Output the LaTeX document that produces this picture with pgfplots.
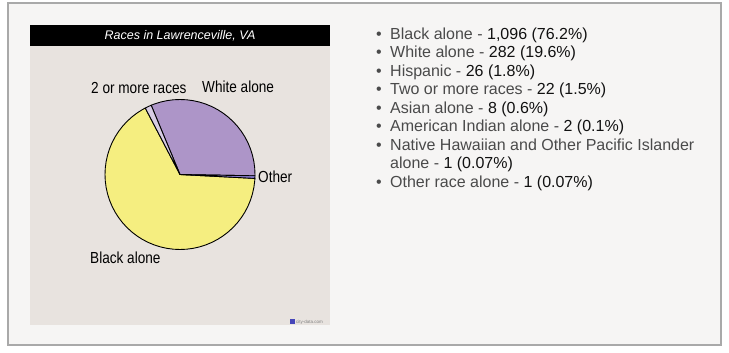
\documentclass[border=0pt]{standalone}
\usepackage{pgfplots}
\pgfplotsset{compat=1.18}
\usepgfplotslibrary{polar}
\usepackage{graphicx}
\usepackage{fontspec}
\setmainfont{Liberation Sans}
\definecolor{frame}{HTML}{A9A9A9}
\definecolor{pagebg}{HTML}{F6F5F4}
\definecolor{piebg}{HTML}{E8E3DF}
\definecolor{pyellow}{HTML}{F5EE80}
\definecolor{ppurple}{HTML}{AD95C8}
\definecolor{plav}{HTML}{D8CCE4}
\definecolor{pother}{HTML}{8C80D4}
\definecolor{lbl}{HTML}{4A4A4A}
\definecolor{num}{HTML}{111111}
\begin{document}
\begin{tikzpicture}[x=1pt,y=1pt]
\useasboundingbox (0,0) rectangle (729,353);
\fill[white] (0,0) rectangle (729,353);
\filldraw[fill=pagebg,draw=frame,line width=2pt] (8,350) rectangle (721,8);
% pie picture background and title bar
\fill[piebg] (30,328) rectangle (330,28);
\fill[black] (30,328) rectangle (330,307);
\node[anchor=base,inner sep=0,text=white] at (180,313)
  {\fontsize{12.5}{14}\selectfont\itshape Races in Lawrenceville, VA};
% pie: slice shares (per cent of 360 degrees)
% Black alone 66.5, White alone 31.6, 2 or more races 1.4, Other 0.5
\begin{polaraxis}[
  at={(180pt,178.5pt)}, anchor=center,
  scale only axis, width=150pt, height=150pt,
  xmin=0, xmax=360, ymin=0, ymax=1,
  hide axis, clip=false]
\addplot[fill=pyellow,draw=black,line width=0.9pt,line join=round] coordinates {
 (0,0) (117.6,1) (120,1) (125,1) (130,1) (135,1) (140,1) (145,1) (150,1) (155,1)
 (160,1) (165,1) (170,1) (175,1) (180,1) (185,1) (190,1) (195,1) (200,1) (205,1)
 (210,1) (215,1) (220,1) (225,1) (230,1) (235,1) (240,1) (245,1) (250,1) (255,1)
 (260,1) (265,1) (270,1) (275,1) (280,1) (285,1) (290,1) (295,1) (300,1) (305,1)
 (310,1) (315,1) (320,1) (325,1) (330,1) (335,1) (340,1) (345,1) (350,1) (355,1)
 (357,1) (0,0)} -- cycle;
\addplot[fill=ppurple,draw=black,line width=0.9pt,line join=round] coordinates {
 (0,0) (-1,1) (0,1) (5,1) (10,1) (15,1) (20,1) (25,1) (30,1) (35,1) (40,1) (45,1)
 (50,1) (55,1) (60,1) (65,1) (70,1) (75,1) (80,1) (85,1) (90,1) (95,1) (100,1)
 (105,1) (110,1) (112.6,1) (0,0)} -- cycle;
\addplot[fill=plav,draw=black,line width=0.9pt,line join=round] coordinates {
 (0,0) (112.6,1) (115,1) (117.6,1) (0,0)} -- cycle;
\addplot[fill=pother,draw=black,line width=0.9pt,line join=round] coordinates {
 (0,0) (-3,1) (-2,1) (-1,1) (0,0)} -- cycle;
\end{polaraxis}
% pie labels
\node[anchor=base west,inner sep=0] at (91,259)
  {\scalebox{0.85}[1]{\fontsize{16}{18}\selectfont 2 or more races}};
\node[anchor=base west,inner sep=0] at (202,260.7)
  {\scalebox{0.85}[1]{\fontsize{16}{18}\selectfont White alone}};
\node[anchor=base west,inner sep=0] at (258,170.3)
  {\scalebox{0.85}[1]{\fontsize{16}{18}\selectfont Other}};
\node[anchor=base west,inner sep=0] at (90,89.7)
  {\scalebox{0.85}[1]{\fontsize{16}{18}\selectfont Black alone}};
% watermark
\fill[blue!45!gray] (290,28.5) rectangle (295,33.5);
\node[anchor=base west,inner sep=0,text=gray] at (296,29.5)
  {\fontsize{4.5}{5}\selectfont city-data.com};
% list
\begin{scope}[every node/.style={anchor=base west,inner sep=0}]
\foreach \yy in {313.5,295.04,276.58,258.12,239.66,221.2,202.74,165.82}
  {\node[text=lbl] at (376,\yy) {\fontsize{16}{18}\selectfont •};}
\node at (390,313.5) {\fontsize{16}{18}\selectfont\textcolor{lbl}{Black alone -} \textcolor{num}{1,096 (76.2\%)}};
\node at (390,295.04) {\fontsize{16}{18}\selectfont\textcolor{lbl}{White alone -} \textcolor{num}{282 (19.6\%)}};
\node at (390,276.58) {\fontsize{16}{18}\selectfont\textcolor{lbl}{Hispanic -} \textcolor{num}{26 (1.8\%)}};
\node at (390,258.12) {\fontsize{16}{18}\selectfont\textcolor{lbl}{Two or more races -} \textcolor{num}{22 (1.5\%)}};
\node at (390,239.66) {\fontsize{16}{18}\selectfont\textcolor{lbl}{Asian alone -} \textcolor{num}{8 (0.6\%)}};
\node at (390,221.2) {\fontsize{16}{18}\selectfont\textcolor{lbl}{American Indian alone -} \textcolor{num}{2 (0.1\%)}};
\node at (390,202.74) {\fontsize{16}{18}\selectfont\textcolor{lbl}{Native Hawaiian and Other Pacific Islander}};
\node at (390,184.28) {\fontsize{16}{18}\selectfont\textcolor{lbl}{alone -} \textcolor{num}{1 (0.07\%)}};
\node at (390,165.82) {\fontsize{16}{18}\selectfont\textcolor{lbl}{Other race alone -} \textcolor{num}{1 (0.07\%)}};
\end{scope}
\end{tikzpicture}
\end{document}
